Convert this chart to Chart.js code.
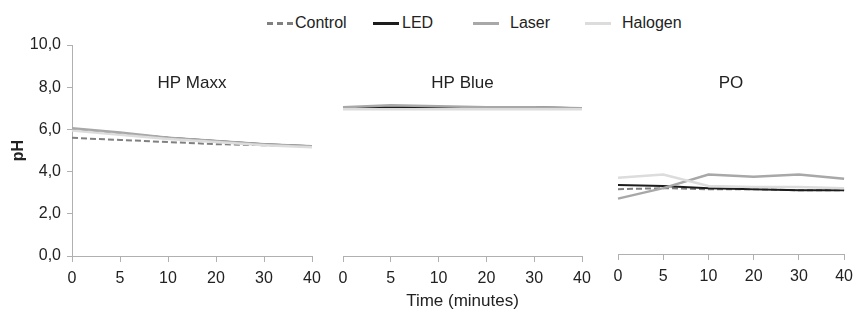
<!DOCTYPE html>
<html>
<head>
<meta charset="utf-8">
<script src="https://cdn.jsdelivr.net/npm/chart.js@4/dist/chart.umd.min.js"></script>
<style>
body { margin: 0; background: #fff; font-family: "Liberation Sans", Arial, sans-serif; }
#wrap { position: relative; width: 853px; height: 319px; overflow: hidden; }
.panel { position: absolute; top: 0; height: 319px; }
#legend { position: absolute; top: 13px; left: 0; width: 853px; height: 20px; font-size: 16px; color: #222; }
.item { position: absolute; top: 0; line-height: 20px; white-space: nowrap; }
.swatch { position: absolute; top: 9px; height: 0; }
</style>
</head>
<body>
<div id="wrap">
  <div id="legend"></div>
  <div class="panel" style="left:0;width:330px"><canvas id="c1" width="330" height="319"></canvas></div>
  <div class="panel" style="left:330px;width:270px"><canvas id="c2" width="270" height="319"></canvas></div>
  <div class="panel" style="left:600px;width:260px"><canvas id="c3" width="260" height="319"></canvas></div>
</div>
<script>
const times = ['0', '5', '10', '20', '30', '40']
const seriesNames = ['Control', 'LED', 'Laser', 'Halogen']
const panelNames = ['HP Maxx', 'HP Blue', 'PO']
const yTicks = [0, 2, 4, 6, 8, 10]

const maxxControl = [5.6, 5.5, 5.4, 5.3, 5.25, 5.2]
const maxxLED = [6.0, 5.8, 5.6, 5.45, 5.3, 5.2]
const maxxLaser = [6.05, 5.85, 5.6, 5.45, 5.3, 5.2]
const maxxHalogen = [5.95, 5.75, 5.55, 5.4, 5.25, 5.15]

const blueControl = [7.0, 7.0, 7.0, 7.0, 7.0, 7.0]
const blueLED = [7.05, 7.05, 7.05, 7.05, 7.05, 7.0]
const blueLaser = [7.05, 7.15, 7.1, 7.05, 7.05, 7.0]
const blueHalogen = [6.95, 6.95, 6.95, 6.95, 6.95, 6.95]

const poControl = [3.1, 3.15, 3.1, 3.1, 3.05, 3.05]
const poLED = [3.3, 3.25, 3.15, 3.1, 3.05, 3.05]
const poLaser = [2.65, 3.15, 3.8, 3.7, 3.8, 3.6]
const poHalogen = [3.65, 3.8, 3.25, 3.2, 3.2, 3.15]

const colors = ['#808080', '#1c1c1c', '#a8a8a8', '#dcdcdc']
const widths = [2, 2, 2.5, 2.5]
const dashes = [[6, 3], [], [], []]
const font = { family: '"Liberation Sans", Arial, sans-serif', size: 16 }
const titleFont = { family: '"Liberation Sans", Arial, sans-serif', size: 17 }

// legend: swatch left, swatch width, text left
const legendPos = [[267, 26, 295], [373, 26, 402], [473, 26, 510], [585, 26, 622]]
const legend = document.getElementById('legend')
seriesNames.forEach((name, i) => {
    const p = legendPos[i]
    const sw = document.createElement('span')
    sw.className = 'swatch'
    sw.style.left = p[0] + 'px'
    sw.style.width = p[1] + 'px'
    sw.style.borderTop = '3px ' + (i == 0 ? 'dashed ' : 'solid ') + colors[i]
    legend.appendChild(sw)
    const txt = document.createElement('span')
    txt.className = 'item'
    txt.style.left = p[2] + 'px'
    txt.textContent = name
    legend.appendChild(txt)
})

var panelTitle = {
    id: 'panelTitle',
    afterDraw: (chart) => {
        const ctx = chart.ctx
        const area = chart.chartArea
        ctx.save()
        ctx.font = '17px "Liberation Sans", Arial, sans-serif'
        ctx.fillStyle = '#222'
        ctx.textAlign = 'center'
        ctx.textBaseline = 'middle'
        ctx.fillText(chart.options.plugins.panelTitle.text, (area.left + area.right) / 2, 83)
        ctx.restore()
    }
}

var makeChart = (id, title, data, pad, showY, xTitle, axisHeight) => {
    const datasets = seriesNames.map((name, i) => ({
        label: name,
        data: data[i],
        borderColor: colors[i],
        backgroundColor: colors[i],
        borderWidth: widths[i],
        borderDash: dashes[i],
        pointRadius: 0,
        tension: 0,
        order: 4 - i
    }))
    return new Chart(document.getElementById(id), {
        type: 'line',
        data: { labels: times, datasets: datasets },
        plugins: [panelTitle],
        options: {
            responsive: false,
            animation: false,
            layout: { padding: pad },
            plugins: {
                legend: { display: false },
                tooltip: { enabled: false },
                panelTitle: { text: title }
            },
            scales: {
                x: {
                    type: 'category',
                    offset: false,
                    grid: { drawOnChartArea: false, tickLength: 6, color: '#b0b0b0' },
                    border: { color: '#b0b0b0' },
                    ticks: { font: font, color: '#222', padding: 7, maxRotation: 0, autoSkip: false },
                    title: { display: !!xTitle, text: xTitle || '', font: titleFont, color: '#222', padding: { top: 0, bottom: 7 } },
                    afterFit: (s) => { s.height = axisHeight }
                },
                y: {
                    display: showY,
                    min: 0,
                    max: 10,
                    afterBuildTicks: (s) => { s.ticks = yTicks.map(v => ({ value: v })) },
                    grid: { drawOnChartArea: false, tickLength: 5, color: '#b0b0b0' },
                    border: { color: '#b0b0b0' },
                    ticks: { font: font, color: '#222', padding: 6, callback: (v) => v.toFixed(1).replace('.', ',') },
                    title: { display: true, text: 'pH', font: { family: font.family, size: 16, weight: 'bold' }, color: '#222', padding: { top: 9, bottom: 0 } },
                    afterFit: (s) => { s.width = showY ? 72 : 0 }
                }
            }
        }
    })
}

makeChart('c1', panelNames[0], [maxxControl, maxxLED, maxxLaser, maxxHalogen], { left: 0, right: 18, top: 45, bottom: 0 }, true, null, 63)
makeChart('c2', panelNames[1], [blueControl, blueLED, blueLaser, blueHalogen], { left: 13, right: 18, top: 45, bottom: 0 }, false, 'Time (minutes)', 63)
makeChart('c3', panelNames[2], [poControl, poLED, poLaser, poHalogen], { left: 18, right: 0, top: 45, bottom: 0 }, false, null, 65)
</script>
</body>
</html>
